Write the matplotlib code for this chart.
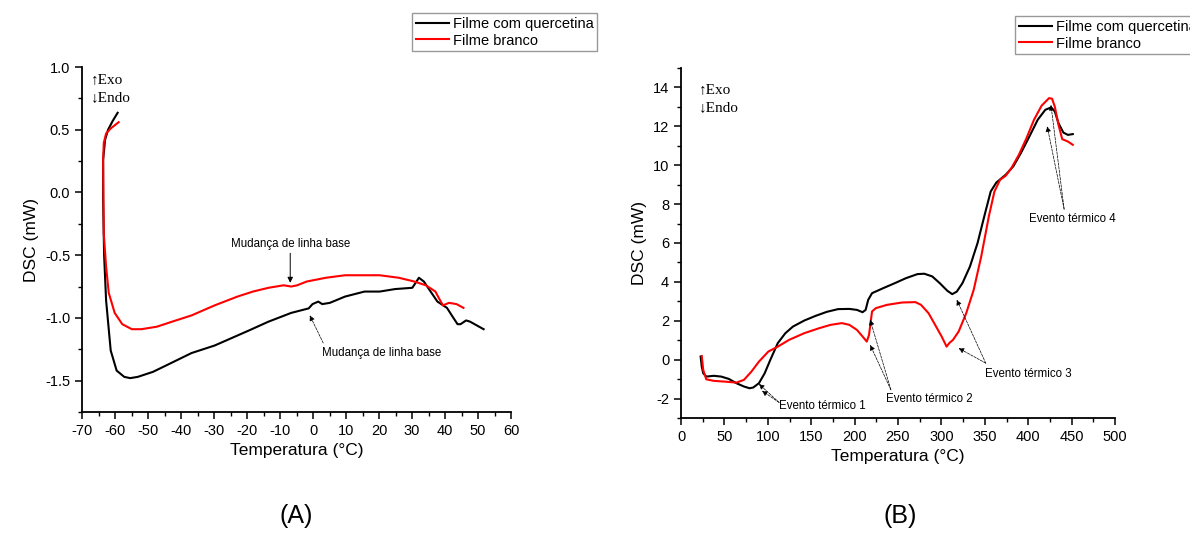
import numpy as np
import matplotlib
matplotlib.use("Agg")
from matplotlib import pyplot as plt
from matplotlib.ticker import MultipleLocator, FormatStrFormatter

plt.rcParams['font.family'] = ['Liberation Sans', 'DejaVu Sans']
plt.rcParams['axes.unicode_minus'] = False

# ---- panel A data ----
tempA_quer = [-59.2, -60.7, -62.1, -63.0, -63.6, -63.6, -63.3, -62.7, -61.3, -59.5, -57.2, -55.4,
              -53.1, -48.5, -43.8, -36.8, -29.8, -19.4, -13.5, -6.6, -1.3, -0.15, 1.6, 2.8, 5.1,
              9.7, 15.6, 20.2, 24.9, 30.1, 32.1, 33.6, 35.9, 37.7, 40.6, 42.3, 43.8, 44.7, 46.4,
              47.6, 51.7]
dscA_quer = [0.635, 0.57, 0.50, 0.42, 0.26, -0.06, -0.50, -0.86, -1.26, -1.42, -1.47, -1.48,
             -1.47, -1.43, -1.37, -1.28, -1.22, -1.10, -1.03, -0.96, -0.924, -0.89, -0.87, -0.89,
             -0.88, -0.83, -0.79, -0.79, -0.77, -0.76, -0.68, -0.71, -0.80, -0.87, -0.92, -0.99,
             -1.05, -1.05, -1.02, -1.03, -1.09]

tempA_branco = [-58.9, -61.3, -62.7, -63.4, -63.6, -63.4, -62.7, -61.9, -60.1, -57.8, -54.9, -52.0,
                -47.3, -42.7, -36.8, -29.8, -22.9, -18.2, -13.5, -8.9, -6.6, -4.8, -1.9, 3.9, 9.7,
                15.6, 20.2, 26.0, 30.7, 34.2, 37.1, 38.3, 39.4, 41.2, 43.5, 45.6]
dscA_branco = [0.56, 0.51, 0.47, 0.395, 0.26, -0.33, -0.59, -0.80, -0.96, -1.05, -1.09, -1.09,
               -1.07, -1.03, -0.98, -0.90, -0.83, -0.79, -0.76, -0.74, -0.75, -0.74, -0.71, -0.68,
               -0.66, -0.66, -0.66, -0.68, -0.71, -0.74, -0.79, -0.85, -0.90, -0.88, -0.89, -0.92]

# ---- panel B data ----
tempB_quer = [22.6, 23.9, 25.6, 29.1, 37.8, 46.4, 55.1, 63.8, 72.5, 79.0, 83.3, 89.8, 96.4, 102.9,
              111.5, 120.2, 128.9, 141.9, 154.9, 168.0, 181.0, 194.0, 202.7, 209.2, 212.7, 215.7,
              220.1, 233.1, 246.1, 259.1, 272.4, 280.3, 289.5, 298.2, 306.9, 312.5, 317.7, 324.2,
              332.9, 341.6, 350.3, 356.8, 363.3, 374.1, 382.8, 391.5, 402.3, 411.0, 419.7, 426.2,
              430.6, 434.9, 440.5, 445.7, 451.4]
dscB_quer = [0.16, -0.35, -0.70, -0.87, -0.83, -0.87, -0.99, -1.21, -1.38, -1.47, -1.43, -1.21,
             -0.70, -0.01, 0.85, 1.36, 1.70, 2.01, 2.25, 2.46, 2.60, 2.61, 2.56, 2.44, 2.56, 3.08,
             3.42, 3.68, 3.93, 4.19, 4.40, 4.42, 4.28, 3.93, 3.54, 3.37, 3.50, 3.93, 4.79, 5.99,
             7.53, 8.65, 9.11, 9.51, 9.94, 10.62, 11.56, 12.34, 12.85, 12.97, 12.77, 12.16, 11.68,
             11.56, 11.6]

tempB_branco = [23.9, 25.6, 29.1, 37.8, 50.8, 63.8, 72.5, 81.2, 89.8, 100.7, 111.5, 124.6, 141.9,
                159.3, 172.3, 185.3, 194.0, 202.7, 209.2, 214.0, 216.6, 220.1, 224.5, 237.4, 254.8,
                270.0, 276.5, 285.2, 293.9, 300.3, 306.0, 309.0, 313.4, 319.9, 328.6, 337.2, 345.9,
                354.6, 361.1, 367.6, 374.1, 380.6, 389.3, 398.0, 406.7, 415.4, 424.0, 427.5, 430.6,
                434.9, 439.2, 445.7, 451.4]
dscB_branco = [0.19, -0.53, -1.01, -1.09, -1.13, -1.18, -1.04, -0.61, -0.10, 0.42, 0.67, 1.02,
               1.36, 1.62, 1.79, 1.88, 1.79, 1.53, 1.19, 0.93, 1.27, 2.48, 2.65, 2.82, 2.94, 2.96,
               2.82, 2.39, 1.70, 1.19, 0.67, 0.85, 1.02, 1.45, 2.39, 3.59, 5.31, 7.36, 8.65, 9.25,
               9.46, 9.85, 10.54, 11.39, 12.34, 13.06, 13.45, 13.42, 13.02, 12.08, 11.34, 11.22,
               11.05]

W, H = 1190, 533


def styleAxes(ax):
    ax.spines['top'].set_visible(False)
    ax.spines['right'].set_visible(False)
    for s in ['left', 'bottom']:
        ax.spines[s].set_linewidth(1.3)
    ax.tick_params(which='major', direction='out', length=5, width=1.1, labelsize=10.5)
    ax.tick_params(which='minor', direction='out', length=3, width=1.0)
    ax.set_xlabel('Temperatura (°C)', fontsize=12.5, labelpad=4)
    ax.set_ylabel('DSC (mW)', fontsize=12.5, labelpad=4)


def exoEndo(ax, x, y1, y2):
    ax.text(x, y1, '↑Exo', family=['Liberation Serif', 'DejaVu Serif'], fontsize=11,
            ha='left', va='center')
    ax.text(x, y2, '↓Endo', family=['Liberation Serif', 'DejaVu Serif'], fontsize=11,
            ha='left', va='center')


def arrow(ax, tail, head, dashed=False, lw=0.7):
    ax.annotate('', xy=head, xytext=tail,
                arrowprops=dict(arrowstyle='-|>', color='black', lw=lw,
                                linestyle='--' if dashed else '-', mutation_scale=8,
                                shrinkA=0, shrinkB=0))


def addLegend(fig, ax, left, top):
    # legend box sits above the axes, placed in figure pixels
    leg = ax.legend(loc='upper left', bbox_to_anchor=(left / W, 1 - top / H),
                    bbox_transform=fig.transFigure, borderaxespad=0, fontsize=10.5,
                    fancybox=False, framealpha=1, edgecolor='#999999',
                    handlelength=2.3, borderpad=0.25, labelspacing=0.2,
                    handletextpad=0.25)
    leg.get_frame().set_linewidth(1.0)


def main():
    fig = plt.figure(figsize=(W / 100, H / 100), dpi=100)

    # panel A
    axA = fig.add_axes([82 / W, 1 - 412 / H, (511 - 82) / W, (412 - 67) / H])
    axA.plot(tempA_quer, dscA_quer, color='black', lw=1.5, label='Filme com quercetina')
    axA.plot(tempA_branco, dscA_branco, color='#ff0000', lw=1.5, label='Filme branco')
    axA.set_xlim(-70, 60)
    axA.set_ylim(-1.75, 1.0)
    axA.xaxis.set_major_locator(MultipleLocator(10))
    axA.xaxis.set_minor_locator(MultipleLocator(5))
    axA.yaxis.set_major_locator(MultipleLocator(0.5))
    axA.yaxis.set_minor_locator(MultipleLocator(0.25))
    axA.yaxis.set_major_formatter(FormatStrFormatter('%.1f'))
    styleAxes(axA)
    exoEndo(axA, -67.2, 0.90, 0.755)
    axA.text(-6.7, -0.455, 'Mudança de linha base', fontsize=8.3, ha='center', va='bottom')
    arrow(axA, (-6.9, -0.485), (-6.9, -0.72))
    axA.text(20.8, -1.28, 'Mudança de linha base', fontsize=8.3, ha='center', va='center')
    arrow(axA, (3.1, -1.20), (-0.97, -0.98), dashed=True, lw=0.5)
    addLegend(fig, axA, 412, 13)

    # panel B
    axB = fig.add_axes([681 / W, 1 - 418 / H, (1115 - 681) / W, (418 - 68) / H])
    axB.plot(tempB_quer, dscB_quer, color='black', lw=1.5, label='Filme com quercetina')
    axB.plot(tempB_branco, dscB_branco, color='#ff0000', lw=1.5, label='Filme branco')
    axB.set_xlim(0, 500)
    axB.set_ylim(-3, 15)
    axB.xaxis.set_major_locator(MultipleLocator(50))
    axB.xaxis.set_minor_locator(MultipleLocator(25))
    axB.yaxis.set_major_locator(MultipleLocator(2))
    axB.yaxis.set_minor_locator(MultipleLocator(1))
    styleAxes(axB)
    exoEndo(axB, 20.5, 13.9, 12.95)

    axB.text(162.8, -2.38, 'Evento térmico 1', fontsize=8.3, ha='center', va='center')
    arrow(axB, (113, -2.2), (89.8, -1.25), dashed=True, lw=0.5)
    arrow(axB, (113, -2.2), (93.3, -1.6), dashed=True, lw=0.5)
    axB.text(286, -2.03, 'Evento térmico 2', fontsize=8.3, ha='center', va='center')
    arrow(axB, (241.8, -1.55), (217.9, 2.05), dashed=True, lw=0.5)
    arrow(axB, (241.8, -1.55), (217.9, 0.76), dashed=True, lw=0.5)
    axB.text(400.2, -0.75, 'Evento térmico 3', fontsize=8.3, ha='center', va='center')
    arrow(axB, (351.1, -0.18), (317.7, 3.08), dashed=True, lw=0.5)
    arrow(axB, (351.1, -0.18), (319.9, 0.59), dashed=True, lw=0.5)
    axB.text(451.4, 7.23, 'Evento térmico 4', fontsize=8.3, ha='center', va='center')
    arrow(axB, (441.4, 7.74), (421.9, 12.0), dashed=True, lw=0.5)
    arrow(axB, (441.4, 7.74), (426.2, 13.1), dashed=True, lw=0.5)
    addLegend(fig, axB, 1015, 16)

    fig.text(296 / W, 1 - 516 / H, '(A)', fontsize=18, ha='center', va='center')
    fig.text(900 / W, 1 - 516 / H, '(B)', fontsize=18, ha='center', va='center')

    fig.savefig('out.png', dpi=100)


if __name__ == "__main__":
    main()
